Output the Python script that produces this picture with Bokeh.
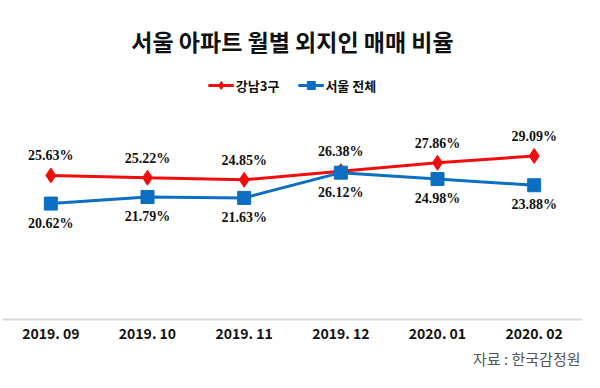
from bokeh.plotting import figure
from bokeh.models import (ColumnDataSource, Legend, LegendItem, Title, LabelSet,
                          Range1d, FactorRange)
from bokeh.embed import file_html
from bokeh.resources import INLINE

months = ["2019. 09", "2019. 10", "2019. 11", "2019. 12", "2020. 01", "2020. 02"]
gangnam = [25.63, 25.22, 24.85, 26.38, 27.86, 29.09]
seoul = [20.62, 21.79, 21.63, 26.12, 24.98, 23.88]
series_names = ["강남3구", "서울 전체"]
title_text = "서울 아파트 월별 외지인 매매 비율"
source_text = "자료 : 한국감정원"

FONT = "Noto Sans CJK KR"
RED = "#f20d0d"
BLUE = "#0a6fc2"

src = ColumnDataSource(dict(
    m=months, g=gangnam, s=seoul,
    gl=[f"{v:.2f}%" for v in gangnam],
    sl=[f"{v:.2f}%" for v in seoul],
))

p = figure(width=584, height=372, x_range=FactorRange(*months, range_padding=0),
           y_range=Range1d(0, 45), output_backend="svg", toolbar_location=None,
           min_border_left=2, min_border_right=2, min_border_top=66, min_border_bottom=53)
p.outline_line_color = None
p.xgrid.visible = False
p.ygrid.visible = False
p.yaxis.visible = False

p.title = Title(text=title_text, align="center", text_font=FONT, text_font_size="23px",
                text_font_style="bold", text_color="#111111", standoff=18, offset=4)

r1 = p.line("m", "g", source=src, color=RED, line_width=3)
m1 = p.scatter("m", "g", source=src, marker="diamond", size=15, color=RED)
r2 = p.line("m", "s", source=src, color=BLUE, line_width=3)
m2 = p.scatter("m", "s", source=src, marker="square", size=13, color=BLUE)

lab1 = LabelSet(x="m", y="g", text="gl", source=src, y_offset=12, text_align="center",
                text_baseline="bottom", text_font=FONT, text_font_size="14px",
                text_font_style="bold", text_color="#111111")
lab2 = LabelSet(x="m", y="s", text="sl", source=src, y_offset=-12, text_align="center",
                text_baseline="top", text_font=FONT, text_font_size="14px",
                text_font_style="bold", text_color="#111111")
p.add_layout(lab1)
p.add_layout(lab2)

legend = Legend(items=[LegendItem(label=series_names[0], renderers=[r1, m1]),
                       LegendItem(label=series_names[1], renderers=[r2, m2])],
                orientation="horizontal", location="top_center",
                label_text_font=FONT, label_text_font_size="13px",
                label_text_font_style="bold", label_text_color="#111111",
                border_line_color=None, background_fill_alpha=0,
                glyph_width=26, label_standoff=2, spacing=18, padding=2, margin=9)
p.add_layout(legend)

ax = p.xaxis[0]
ax.axis_line_color = "#d9d9d9"
ax.axis_line_width = 2
ax.major_tick_line_color = None
ax.minor_tick_line_color = None
ax.major_tick_out = 0
ax.major_tick_in = 0
ax.minor_tick_out = 0
ax.minor_tick_in = 0
ax.major_label_text_font = FONT
ax.major_label_text_font_size = "14px"
ax.major_label_text_font_style = "bold"
ax.major_label_text_color = "#111111"
ax.major_label_standoff = 3

p.add_layout(Title(text=source_text, align="right", text_font=FONT, text_font_size="15px",
                   text_font_style="normal", text_color="#555555", offset=2, standoff=0), "below")

open("out.html", "w").write(file_html(p, INLINE))
